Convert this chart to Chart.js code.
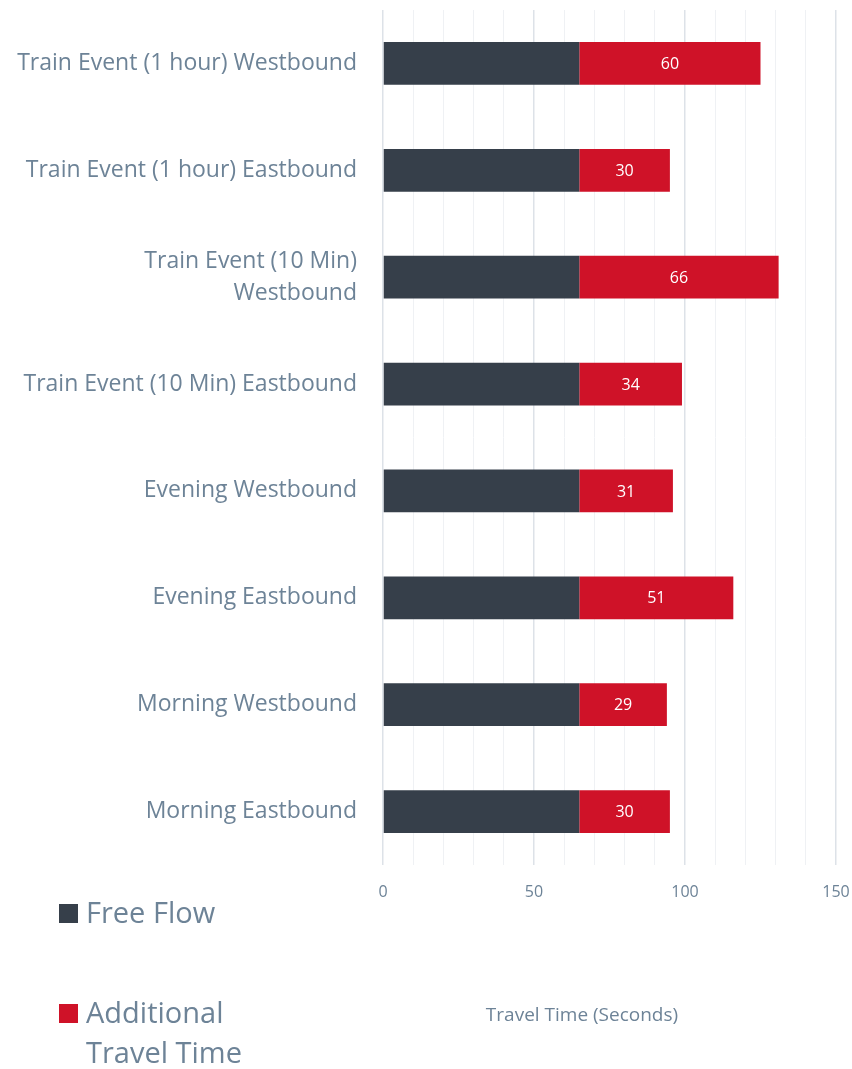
<!DOCTYPE html>
<html>
<head>
<meta charset="utf-8">
<script src="https://cdn.jsdelivr.net/npm/chart.js@4"></script>
<style>
  html, body { margin: 0; padding: 0; background: #fff; }
  #wrap { position: relative; width: 852px; height: 1069px; }
</style>
</head>
<body>
<div id="wrap"><canvas id="chart"></canvas></div>
<script>
// travel time per scenario, top row first
const scenarios = [
    'Train Event (1 hour) Westbound',
    'Train Event (1 hour) Eastbound',
    ['Train Event (10 Min)', 'Westbound'],
    'Train Event (10 Min) Eastbound',
    'Evening Westbound',
    'Evening Eastbound',
    'Morning Westbound',
    'Morning Eastbound',
];
const freeFlow = [65, 65, 65, 65, 65, 65, 65, 65];
const additionalTime = [60, 30, 66, 34, 31, 51, 29, 30];
const labeledTicks = [0, 50, 100, 150];

const seriesNames = ['Free Flow', ['Additional', 'Travel Time']];
const axisTitle = 'Travel Time (Seconds)';

const DARK = '#363f4a';
const RED = '#cf1228';
const TEXT = '#6d8397';
const FONT = '"Open Sans", "DejaVu Sans", sans-serif';

// white value labels centred in the red segments
const valueLabels = {
    id: 'valueLabels',
    afterDatasetsDraw(chart) {
        const ctx = chart.ctx;
        const meta = chart.getDatasetMeta(1);
        ctx.save();
        ctx.fillStyle = '#ffffff';
        ctx.font = '16px ' + FONT;
        ctx.textAlign = 'center';
        ctx.textBaseline = 'middle';
        meta.data.forEach((bar, i) => {
            const cx = (bar.x + bar.base) / 2;
            ctx.fillText(String(additionalTime[i]), cx, bar.y + 1);
        });
        ctx.restore();
    }
};

// stacked legend bottom left, plus the axis title
const sideLegend = {
    id: 'sideLegend',
    afterDraw(chart) {
        const ctx = chart.ctx;
        const colors = [DARK, RED];
        const rows = [913, 1013];
        ctx.save();
        ctx.font = '29px ' + FONT;
        ctx.textBaseline = 'middle';
        ctx.textAlign = 'left';
        seriesNames.forEach((name, i) => {
            ctx.fillStyle = colors[i];
            ctx.fillRect(59, rows[i] - 9, 19, 19);
            ctx.fillStyle = TEXT;
            const lines = Array.isArray(name) ? name : [name];
            lines.forEach((line, j) => ctx.fillText(line, 86, rows[i] + 2 + j * 40));
        });
        ctx.font = '19px ' + FONT;
        ctx.textAlign = 'center';
        ctx.fillText(axisTitle, 582, 1016);
        ctx.restore();
    }
};

new Chart(document.getElementById('chart'), {
    type: 'bar',
    data: {
        labels: scenarios,
        datasets: [{
            label: 'Free Flow',
            data: freeFlow,
            backgroundColor: DARK,
        }, {
            label: 'Additional Travel Time',
            data: additionalTime,
            backgroundColor: RED,
        }]
    },
    options: {
        indexAxis: 'y',
        responsive: true,
        maintainAspectRatio: false,
        animation: false,
        layout: { padding: { top: 10, right: 16, bottom: 0, left: 0 } },
        datasets: {
            bar: { categoryPercentage: 1, barPercentage: 0.4, borderWidth: 0 }
        },
        plugins: {
            legend: { display: false },
            tooltip: { enabled: false },
        },
        scales: {
            x: {
                stacked: true,
                min: 0,
                max: 150,
                border: { display: false },
                ticks: {
                    stepSize: 10,
                    autoSkip: false,
                    maxRotation: 0,
                    padding: 18,
                    color: TEXT,
                    font: { family: FONT, size: 16 },
                    callback: (v) => labeledTicks.includes(v) ? String(v) : '',
                },
                grid: {
                    drawTicks: false,
                    color: (c) => labeledTicks.includes(c.tick && c.tick.value) ? '#dde2e8' : '#eff1f4',
                    lineWidth: (c) => labeledTicks.includes(c.tick && c.tick.value) ? 1.5 : 1,
                },
                afterFit: (scale) => {
                    scale.height = 204;
                    scale.paddingLeft = 0;
                    scale.paddingRight = 0;
                },
            },
            y: {
                stacked: true,
                border: { display: false },
                grid: { display: false, drawTicks: false },
                ticks: {
                    padding: 26,
                    color: TEXT,
                    font: { family: FONT, size: 23, lineHeight: 1.4 },
                },
                afterFit: (scale) => {
                    scale.width = 383;
                    scale.paddingTop = 0;
                    scale.paddingBottom = 0;
                },
            }
        }
    },
    plugins: [valueLabels, sideLegend]
});
</script>
</body>
</html>
